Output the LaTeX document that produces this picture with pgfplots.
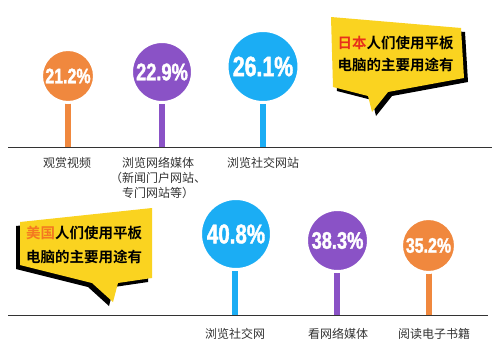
\documentclass[border=0pt]{standalone}
\usepackage{pgfplots}
\pgfplotsset{compat=1.18}
\usepackage{fontspec}
\setmainfont{Liberation Sans}
\newfontfamily\cjk{Noto Sans CJK SC}[BoldFont={Noto Sans CJK SC Bold}]
\newfontfamily\numfont[FakeStretch=0.76,FakeBold=1.5]{Liberation Sans Bold}
\definecolor{cOrange}{HTML}{F0883E}
\definecolor{cPurple}{HTML}{8A52C6}
\definecolor{cBlue}{HTML}{1BADF4}
\definecolor{cYellow}{HTML}{FAD320}
\definecolor{cRed}{HTML}{E8301A}
\definecolor{cUS}{HTML}{F47920}
\definecolor{cText}{HTML}{333333}
\pgfplotsset{
  panel/.style={x=1pt, y=1pt, xmin=0, xmax=500, axis lines=none, ticks=none, clip=false},
  stick/.style={ycomb, color=#1, line width=6.5pt, mark=none},
  lolli/.style n args={3}{only marks, mark=*, mark size=#2, color=#1,
    mark options={draw=white, line width=3pt, fill=#1},
    point meta=explicit symbolic, nodes near coords, nodes near coords align=center,
    every node near coord/.append style={text=white, anchor=center,
      font=\numfont\fontsize{#3}{#3}\selectfont}},
  bubble/.style={fill=cYellow, draw=none, mark=none},
  shadow/.style={fill=black, draw=none, mark=none},
  base/.style={color=cText, line width=0.8pt, mark=none},
}
\begin{document}
\begin{tikzpicture}
\path (0,0) rectangle (500pt,360pt);
% ---------------- Japan (top panel) ----------------
\begin{axis}[panel, at={(0pt,180pt)}, anchor=south west, ymin=-33, ymax=147]
  \addplot[shadow] coordinates {(335,126) (465,115) (468,65) (392,51) (376,31) (372,47) (337,56) (335,126)};
  \addplot[bubble] coordinates {(331,130) (461,119) (464,69) (388,55) (372,35) (368,51) (333,60) (331,130)};
  \node[font=\cjk\bfseries\fontsize{14.5}{22}\selectfont, align=center, text=black]
     at (axis cs:395.5,93) {{\color{cRed}日本}人们使用平板\\电脑的主要用途有};
  \addplot[base] coordinates {(8,0) (492,0)};
  \addplot[stick=cOrange] coordinates {(68,71)};
  \addplot[stick=cPurple] coordinates {(162,75)};
  \addplot[stick=cBlue]   coordinates {(263,80.5)};
  \addplot[lolli={cOrange}{26.5pt}{21}] coordinates {(68,71) [21.2\%]};
  \addplot[lolli={cPurple}{30.5pt}{24}] coordinates {(162,75) [22.9\%]};
  \addplot[lolli={cBlue}{36pt}{28}]     coordinates {(263,80.5) [26.1\%]};
  \begin{scope}[every node/.style={font=\cjk\fontsize{12}{15}\selectfont, text=cText, align=center}]
    \node at (axis cs:67,-16) {观赏视频};
    \node at (axis cs:158,-31) {浏览网络媒体\\（新闻门户网站、\\专门网站等）};
    \node at (axis cs:263,-16) {浏览社交网站};
  \end{scope}
\end{axis}
% ---------------- USA (bottom panel) ----------------
\begin{axis}[panel, at={(0pt,0pt)}, anchor=south west, ymin=-45, ymax=135]
  \addplot[shadow] coordinates {(16,89) (148,103) (148,33) (114,28) (109,9) (88,28) (16,46) (16,89)};
  \addplot[bubble] coordinates {(20,93) (152,107) (152,37) (118,32) (113,13) (92,32) (20,50) (20,93)};
  \node[font=\cjk\bfseries\fontsize{14.5}{24}\selectfont, align=center, text=black]
     at (axis cs:84,70) {{\color{cUS}美国}人们使用平板\\电脑的主要用途有};
  \addplot[base] coordinates {(8,0) (488,0)};
  \addplot[stick=cBlue]   coordinates {(235,81)};
  \addplot[stick=cPurple] coordinates {(337,74.5)};
  \addplot[stick=cOrange] coordinates {(429,69.5)};
  \addplot[lolli={cBlue}{35.5pt}{27}]   coordinates {(236,81) [40.8\%]};
  \addplot[lolli={cPurple}{31pt}{24}]   coordinates {(337.5,74.5) [38.3\%]};
  \addplot[lolli={cOrange}{27pt}{21}]   coordinates {(428.5,69.5) [35.2\%]};
  \begin{scope}[every node/.style={font=\cjk\fontsize{12}{15}\selectfont, text=cText, align=center}]
    \node at (axis cs:235,-19) {浏览社交网};
    \node at (axis cs:338,-19) {看网络媒体};
    \node at (axis cs:434,-19) {阅读电子书籍};
  \end{scope}
\end{axis}
\end{tikzpicture}
\end{document}
